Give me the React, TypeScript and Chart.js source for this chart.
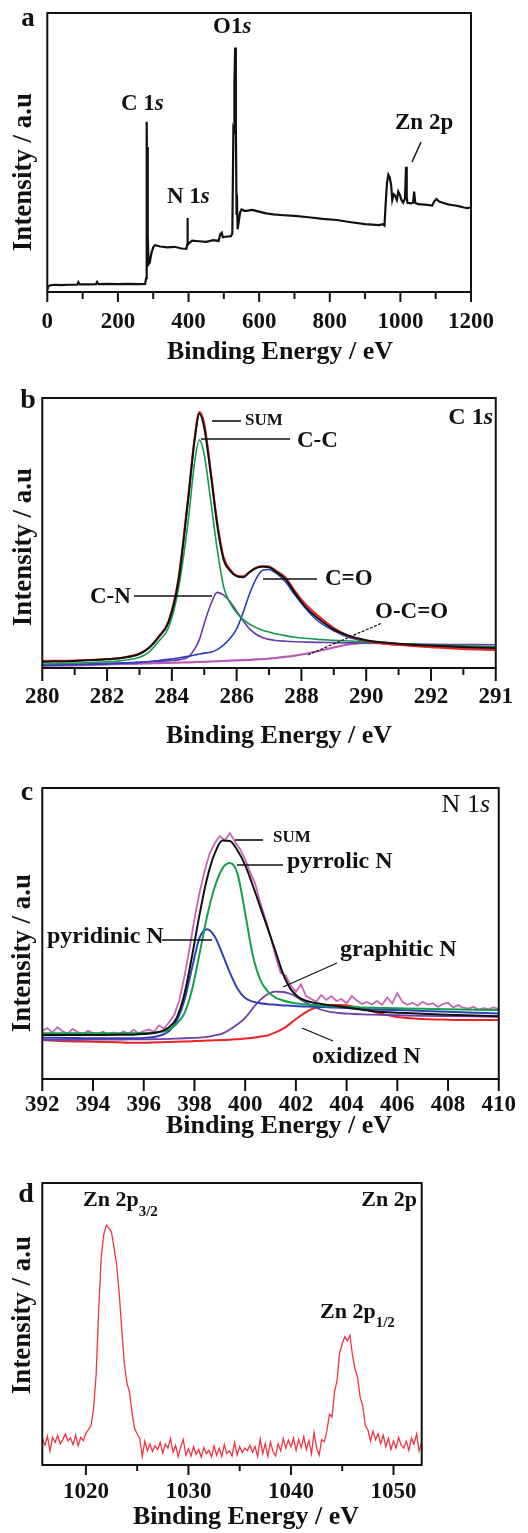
import React, { useEffect, useRef } from 'react';
import { Chart, registerables } from 'chart.js';

Chart.register(...registerables);

const FAMILY = '"Liberation Serif", "Times New Roman", serif';
const font = (size: number, weight = 'bold', style = 'normal') => `${style} ${weight} ${size}px ${FAMILY}`;

// ---------------- Panel a: survey spectrum ----------------
const aEnergy = [0, 3, 8, 20, 40, 60, 85, 88, 92, 120, 138, 141, 145, 170, 200, 230, 260, 277, 280, 281, 282, 283, 284, 285, 287, 290, 295, 300, 305, 320, 340, 360, 380, 394, 396, 397, 398, 400, 410, 430, 450, 470, 485, 490, 494, 497, 505, 520, 524, 527, 529, 530, 532, 534, 536, 537, 539, 542, 546, 550, 560, 580, 600, 620, 640, 660, 700, 740, 780, 820, 860, 900, 940, 950, 955, 958, 962, 966, 970, 974, 977, 981, 985, 990, 994, 998, 1003, 1008, 1013, 1016, 1018, 1020, 1030, 1036, 1039, 1042, 1050, 1070, 1090, 1096, 1102, 1110, 1120, 1135, 1150, 1165, 1180, 1190, 1200];
const aIntensity = [0.8, 2.0, 2.4, 2.6, 2.5, 2.6, 2.6, 3.5, 2.7, 2.7, 2.8, 3.6, 2.8, 2.9, 2.8, 2.9, 2.8, 2.9, 5, 20, 61, 35, 52, 20, 10, 10.5, 14, 16, 16.8, 16.3, 16.0, 16.2, 15.6, 15.5, 17, 26.5, 18, 17.3, 18.4, 18.2, 18.0, 18.6, 18.3, 20.8, 21.3, 19.6, 19.8, 20, 21, 58, 57, 75, 87.6, 60, 28, 35, 22.5, 25, 28.5, 29.6, 29.0, 29.4, 28.8, 28.2, 27.8, 27.6, 27.3, 26.8, 26.2, 25.8, 25.0, 24.3, 24.0, 24.3, 23.8, 31, 39, 42, 41, 38, 33, 35, 34.5, 33, 36, 35, 33, 32, 33.5, 44.9, 34, 32, 31.8, 32, 36, 32, 31.5, 31.3, 31, 32.5, 33.3, 32.4, 32, 31.4, 31.1, 30.8, 30.3, 30.1, 30.3];
const aTicks = [0, 200, 400, 600, 800, 1000, 1200];
const aTickLabels = ['0', '200', '400', '600', '800', '1000', '1200'];
const aMinor = [100, 300, 500, 700, 900, 1100];

// ---------------- Panel b: C 1s ----------------
const bEnergy = [280, 281, 282, 282.5, 283, 283.3, 283.6, 283.9, 284.2, 284.5, 284.7, 284.85, 285, 285.2, 285.4, 285.6, 285.8, 286, 286.2, 286.4, 286.6, 286.8, 287, 287.2, 287.5, 287.8, 288.1, 288.5, 289, 289.5, 290, 290.5, 291, 292, 293, 294];
const bSum = [2.3, 2.6, 3.2, 3.8, 5.2, 7.5, 11.5, 17, 32, 62, 84, 94.2, 89, 72, 53, 40, 36, 34, 33.6, 35.5, 37, 37.5, 37.3, 35.8, 33, 27.8, 23, 18.5, 14.3, 11.8, 10.3, 9.5, 9.0, 8.3, 7.8, 7.4];
const bRaw = [2.6, 2.8, 3.3, 3.9, 5.4, 7.6, 11.8, 17.5, 33, 63, 85, 94.8, 90.5, 73, 54, 41, 36.5, 34.2, 34, 35.6, 37.2, 37.8, 37.6, 36.2, 33.6, 28.5, 24, 19.5, 14.8, 11.7, 10.1, 9.1, 8.5, 7.7, 7.0, 6.6];
const bCC = [1.5, 1.8, 2.3, 2.8, 4.0, 6.0, 10.0, 15.0, 29, 54, 76, 84.5, 79, 62, 44, 30, 24, 20.5, 18, 16.2, 15, 14, 13.3, 12.7, 12.0, 11.4, 11.0, 10.6, 10.3, 10.0, 9.6, 9.3, 9.0, 8.5, 8.2, 7.9];
const bCN = [1.2, 1.4, 1.7, 1.9, 2.1, 2.3, 2.5, 2.7, 3.0, 4.0, 7.0, 10.5, 16.5, 23.5, 28, 27, 24.5, 21, 17.5, 14.5, 12.5, 11.3, 10.6, 10.2, 9.9, 9.7, 9.6, 9.5, 9.4, 9.3, 9.2, 9.1, 9.0, 8.8, 8.7, 8.6];
const bCO = [1.0, 1.2, 1.5, 1.8, 2.1, 2.4, 2.8, 3.2, 3.7, 4.3, 4.8, 5.2, 5.5, 5.8, 6.8, 8.6, 11, 14.5, 20.5, 27.5, 33, 36.2, 36.5, 35.3, 32, 27, 22.5, 17.5, 13.8, 11.2, 9.9, 9.1, 8.6, 8.1, 7.8, 7.6];
const bOCO = [0.8, 1.0, 1.3, 1.5, 1.6, 1.7, 1.8, 1.9, 2.0, 2.1, 2.2, 2.3, 2.3, 2.4, 2.5, 2.6, 2.7, 2.8, 2.9, 3.0, 3.2, 3.3, 3.5, 3.7, 4.1, 4.6, 5.2, 6.2, 7.6, 8.8, 9.4, 9.3, 8.9, 8.0, 7.4, 7.2];
const bTicks = [280, 282, 284, 286, 288, 290, 292, 294];
const bTickLabels = ['280', '282', '284', '286', '288', '290', '292', '291'];
const bMinor = [281, 283, 285, 287, 289, 291, 293];

// ---------------- Panel c: N 1s ----------------
const cEnergy = [392, 393, 394, 395, 395.5, 396, 396.5, 397, 397.3, 397.6, 397.9, 398.2, 398.5, 398.8, 399.1, 399.4, 399.7, 400, 400.3, 400.6, 400.9, 401.2, 401.5, 401.8, 402.1, 402.4, 402.7, 403, 403.4, 403.8, 404.2, 404.6, 405, 405.5, 406, 407, 408, 409, 410];
const cSum = [15.1, 15.1, 15.1, 15.2, 15.2, 15.5, 16.0, 17.8, 21, 29, 42, 56.5, 69, 77.5, 82, 81.8, 78.5, 73.5, 66.5, 59, 51.5, 43.8, 36, 30.8, 28.2, 26.9, 26.2, 25.8, 25.3, 24.8, 24.3, 23.8, 23.4, 23.0, 22.8, 22.4, 22.1, 21.8, 21.6];
const cPyrrolic = [15.7, 15.7, 15.7, 15.7, 15.7, 15.8, 16.0, 17.0, 19, 22.5, 30.5, 43, 56, 66, 72.3, 74.2, 70.5, 57, 42.5, 34, 30, 28.0, 27.0, 26.3, 25.9, 25.6, 25.4, 25.2, 25.0, 24.9, 24.7, 24.6, 24.5, 24.4, 24.3, 24.1, 24.0, 23.8, 23.7];
const cPyridinic = [14.2, 14.1, 14.0, 14.0, 14.0, 14.1, 14.6, 16.5, 20, 27, 38, 48.5, 51.5, 49, 43, 36.5, 31, 27.8, 26.6, 26.0, 25.7, 25.5, 25.3, 25.2, 25.0, 24.9, 24.8, 24.7, 24.6, 24.5, 24.3, 24.2, 24.0, 23.8, 23.7, 23.4, 23.1, 22.8, 22.5];
const cGraphitic = [13.4, 13.4, 13.5, 13.5, 13.6, 13.6, 13.7, 13.8, 13.9, 14.0, 14.1, 14.2, 14.5, 15.0, 15.6, 17, 18.8, 21, 24.3, 27.2, 29.2, 30, 29.9, 29.2, 27.8, 26.2, 24.9, 23.8, 23.0, 22.6, 22.4, 22.2, 22.1, 22.0, 21.9, 21.7, 21.6, 21.5, 21.4];
const cOxidized = [13.4, 13.0, 12.8, 12.6, 12.5, 12.5, 12.6, 12.7, 12.8, 12.9, 13.0, 13.1, 13.2, 13.3, 13.4, 13.5, 13.7, 13.9, 14.2, 14.6, 15.0, 16.0, 17.3, 19.2, 21.2, 23.0, 24.3, 25.0, 25.4, 25.4, 25.0, 24.3, 23.3, 22.2, 21.3, 20.6, 20.4, 20.3, 20.3];
const cRawEnergy = [
  392, 392.2, 392.4, 392.6, 392.8, 393, 393.2, 393.4, 393.6, 393.8,
  394, 394.2, 394.4, 394.6, 394.8, 395, 395.2, 395.4, 395.6, 395.8,
  396, 396.2, 396.4, 396.6, 396.8, 397, 397.2, 397.4, 397.6, 397.8,
  398, 398.2, 398.4, 398.6, 398.8, 399, 399.2, 399.4, 399.6, 399.8,
  400, 400.2, 400.4, 400.6, 400.8, 401, 401.2, 401.4, 401.6, 401.8,
  402, 402.2, 402.4, 402.6, 402.8, 403, 403.2, 403.4, 403.6, 403.8,
  404, 404.2, 404.4, 404.6, 404.8, 405, 405.2, 405.4, 405.6, 405.8,
  406, 406.2, 406.4, 406.6, 406.8, 407, 407.2, 407.4, 407.6, 407.8,
  408, 408.2, 408.4, 408.6, 408.8, 409, 409.2, 409.4, 409.6, 409.8,
  410];
const cRaw = [
  16.5, 17.5, 16.0, 17.8, 16.4, 15.6, 17.2, 16.1, 15.4, 16.6,
  15.8, 15.5, 16.2, 15.3, 16.0, 15.4, 16.3, 15.6, 16.9, 15.7,
  16.5, 17.0, 16.2, 18.4, 17.3, 19.5, 22.0, 27.0, 35.0, 44.5,
  55.0, 64.0, 71.5, 77.5, 81.0, 83.5, 82.0, 84.5, 81.5, 79.0,
  75.5, 71.0, 67.0, 60.5, 55.0, 49.0, 42.0, 36.5, 35.5, 32.0,
  30.0, 32.5, 28.5, 27.5, 26.6, 28.8, 27.2, 28.5, 26.8, 27.5,
  26.0, 28.5, 27.0, 25.8, 26.5, 25.6, 26.8, 25.5, 28.0, 26.0,
  29.5, 26.5, 25.5, 26.2, 25.2, 26.5, 25.6, 26.0, 24.8, 25.8,
  26.2, 24.6, 25.4, 24.5, 24.2, 24.8, 23.9, 24.3, 24.0, 24.6,
  24.0];
const cTicks = [392, 394, 396, 398, 400, 402, 404, 406, 408, 410];
const cTickLabels = ['392', '394', '396', '398', '400', '402', '404', '406', '408', '410'];
const cMinor: number[] = [];

// ---------------- Panel d: Zn 2p ----------------
const dEnergy = [
  1015.75, 1016, 1016.25, 1016.5, 1016.75, 1017, 1017.25, 1017.5,
  1017.75, 1018, 1018.25, 1018.5, 1018.75, 1019, 1019.25, 1019.5,
  1019.75, 1020, 1020.25, 1020.5, 1020.75, 1021, 1021.25, 1021.5,
  1021.75, 1022, 1022.25, 1022.5, 1022.75, 1023, 1023.25, 1023.5,
  1023.75, 1024, 1024.25, 1024.5, 1024.75, 1025, 1025.25, 1025.5,
  1025.75, 1026, 1026.25, 1026.5, 1026.75, 1027, 1027.25, 1027.5,
  1027.75, 1028, 1028.25, 1028.5, 1028.75, 1029, 1029.25, 1029.5,
  1029.75, 1030, 1030.25, 1030.5, 1030.75, 1031, 1031.25, 1031.5,
  1031.75, 1032, 1032.25, 1032.5, 1032.75, 1033, 1033.25, 1033.5,
  1033.75, 1034, 1034.25, 1034.5, 1034.75, 1035, 1035.25, 1035.5,
  1035.75, 1036, 1036.25, 1036.5, 1036.75, 1037, 1037.25, 1037.5,
  1037.75, 1038, 1038.25, 1038.5, 1038.75, 1039, 1039.25, 1039.5,
  1039.75, 1040, 1040.25, 1040.5, 1040.75, 1041, 1041.25, 1041.5,
  1041.75, 1042, 1042.25, 1042.5, 1042.75, 1043, 1043.25, 1043.5,
  1043.75, 1044, 1044.25, 1044.5, 1044.75, 1045, 1045.25, 1045.5,
  1045.75, 1046, 1046.25, 1046.5, 1046.75, 1047, 1047.25, 1047.5,
  1047.75, 1048, 1048.25, 1048.5, 1048.75, 1049, 1049.25, 1049.5,
  1049.75, 1050, 1050.25, 1050.5, 1050.75, 1051, 1051.25, 1051.5,
  1051.75, 1052, 1052.25, 1052.5, 1052.75];
const dIntensity = [
  9.5, 7.0, 10.2, 5.0, 9.8, 8.0, 10.5, 7.5,
  9.0, 11.0, 8.5, 9.6, 7.2, 10.6, 6.8, 9.8,
  8.6, 11.2, 12.5, 14.0, 20.0, 32.0, 55.0, 74.0,
  82.0, 85.0, 84.0, 82.5, 77.0, 71.0, 61.0, 48.0,
  36.0, 29.0, 26.0, 18.5, 13.0, 11.0, 9.5, 3.0,
  8.5, 5.0, 7.5, 4.8, 6.9, 5.5, 8.0, 4.2,
  7.4, 6.0, 9.5, 4.5, 7.0, 3.0, 6.4, 9.0,
  3.5, 5.8, 3.2, 6.5, 3.8, 5.5, 2.8, 6.2,
  4.0, 5.2, 2.9, 6.8, 3.4, 5.9, 3.0, 7.2,
  4.1, 5.0, 3.2, 8.0, 3.6, 6.5, 4.4, 6.0,
  5.1, 7.0, 4.5, 6.6, 3.0, 9.2, 4.0, 7.6,
  3.1, 8.2, 4.8, 3.2, 7.5, 5.0, 9.4, 6.0,
  8.8, 6.5, 9.5, 5.2, 9.0, 6.2, 10.0, 5.5,
  8.7, 4.0, 11.5, 6.0, 3.5, 9.0, 8.2, 12.0,
  18.0, 17.0, 26.0, 30.0, 40.0, 43.0, 45.5, 44.0,
  46.0, 39.0, 34.0, 31.0, 24.0, 21.0, 14.0, 12.5,
  8.5, 12.0, 9.0, 11.0, 7.5, 10.5, 6.5, 9.5,
  5.5, 8.5, 6.0, 9.8, 7.0, 6.0, 8.5, 5.2,
  9.5, 7.4, 11.0, 5.0, 8.0];
const dTicks = [1020, 1030, 1040, 1050];
const dTickLabels = ['1020', '1030', '1040', '1050'];
const dMinor = [1025, 1035, 1045];

// ---------------- helpers ----------------
const W = 528;
const LABEL_BAND = 50;
const pts = (xs: number[], ys: number[]) => xs.map((x, i) => ({ x, y: ys[i] }));

type Seg = { t: string; f: string; dy?: number };
type Note = { segs: Seg[]; x: number; y: number; align?: 'left' | 'right' | 'center' };
type Leader = { x1: number; y1: number; x2: number; y2: number; w?: number; dash?: number[] };

interface Spec {
  top: number;
  height: number;
  area: { l: number; r: number; t: number; b: number };
  xMin: number;
  xMax: number;
  ticks: number[];
  tickLabels: string[];
  minor: number[];
  majorLen: number;
  minorLen: number;
  tickPad: number;
  datasets: any[];
  notes: Note[];
  leaders: Leader[];
  xTitle: { x: number; y: number };
  yTitle: { x: number; y: number };
}

const line = (data: any[], color: string, width: number, smooth: boolean) => ({
  data,
  borderColor: color,
  borderWidth: width,
  pointRadius: 0,
  fill: false,
  tension: 0,
  cubicInterpolationMode: smooth ? 'monotone' : 'default',
});

const plain = (t: string, size = 23): Seg => ({ t, f: font(size) });
const ital = (t: string, size = 23): Seg => ({ t, f: font(size, 'bold', 'italic') });

function Panel({ spec }: { spec: Spec }) {
  const ref = useRef<HTMLCanvasElement>(null);
  useEffect(() => {
    const s = spec;
    const off = s.top;
    const decor = {
      id: 'decor',
      afterDraw(chart: any) {
        const ctx = chart.ctx as CanvasRenderingContext2D;
        const xs = chart.scales.x;
        const a = chart.chartArea;
        ctx.save();
        ctx.strokeStyle = '#111';
        ctx.fillStyle = '#111';
        ctx.lineWidth = 2;
        ctx.strokeRect(a.left, a.top, a.right - a.left, a.bottom - a.top);
        const tick = (v: number, len: number) => {
          const px = xs.getPixelForValue(v);
          ctx.beginPath();
          ctx.moveTo(px, a.bottom);
          ctx.lineTo(px, a.bottom + len);
          ctx.stroke();
        };
        s.ticks.forEach((v) => tick(v, s.majorLen));
        s.minor.forEach((v) => tick(v, s.minorLen));
        s.leaders.forEach((l) => {
          ctx.save();
          ctx.lineWidth = l.w ?? 1.6;
          ctx.setLineDash(l.dash ?? []);
          ctx.beginPath();
          ctx.moveTo(l.x1, l.y1 - off);
          ctx.lineTo(l.x2, l.y2 - off);
          ctx.stroke();
          ctx.restore();
        });
        ctx.textBaseline = 'middle';
        ctx.textAlign = 'left';
        s.notes.forEach((n) => {
          let total = 0;
          n.segs.forEach((sg) => {
            ctx.font = sg.f;
            total += ctx.measureText(sg.t).width;
          });
          let x = n.align === 'right' ? n.x - total : n.align === 'center' ? n.x - total / 2 : n.x;
          n.segs.forEach((sg) => {
            ctx.font = sg.f;
            ctx.fillText(sg.t, x, n.y - off + (sg.dy ?? 0));
            x += ctx.measureText(sg.t).width;
          });
        });
        ctx.textAlign = 'center';
        ctx.font = font(26);
        ctx.fillText('Binding Energy / eV', s.xTitle.x, s.xTitle.y - off);
        ctx.save();
        ctx.translate(s.yTitle.x, s.yTitle.y - off);
        ctx.rotate(-Math.PI / 2);
        ctx.font = font(27);
        ctx.fillText('Intensity / a.u', 0, 0);
        ctx.restore();
        ctx.restore();
      },
    };
    const chart = new Chart(ref.current as HTMLCanvasElement, {
      type: 'line',
      data: { datasets: s.datasets },
      options: {
        animation: false,
        responsive: false,
        maintainAspectRatio: false,
        events: [],
        layout: {
          padding: {
            left: s.area.l,
            right: W - s.area.r,
            top: s.area.t - s.top,
            bottom: s.top + s.height - s.area.b - LABEL_BAND,
          },
        },
        plugins: { legend: { display: false }, tooltip: { enabled: false } },
        elements: { point: { radius: 0 } },
        scales: {
          x: {
            type: 'linear',
            min: s.xMin,
            max: s.xMax,
            grid: { display: false, drawTicks: false, tickLength: 0 },
            border: { display: false },
            afterFit: (sc: any) => {
              sc.height = LABEL_BAND;
            },
            afterBuildTicks: (sc: any) => {
              sc.ticks = s.ticks.map((v) => ({ value: v }));
            },
            ticks: {
              autoSkip: false,
              maxRotation: 0,
              minRotation: 0,
              padding: s.tickPad,
              color: '#111',
              font: { family: FAMILY, size: 23, weight: 'bold' },
              callback: (v: any) => {
                const i = s.ticks.indexOf(Number(v));
                return i >= 0 ? s.tickLabels[i] : '';
              },
            },
          },
          y: { type: 'linear', min: 0, max: 100, display: false },
        },
      } as any,
      plugins: [decor],
    });
    return () => chart.destroy();
  }, [spec]);
  return (
    <canvas
      ref={ref}
      width={W}
      height={spec.height}
      style={{ position: 'absolute', left: 0, top: spec.top, width: W, height: spec.height }}
    />
  );
}

const specA: Spec = {
  top: 0,
  height: 370,
  area: { l: 47.3, r: 471, t: 13, b: 292 },
  xMin: 0,
  xMax: 1200,
  ticks: aTicks,
  tickLabels: aTickLabels,
  minor: aMinor,
  majorLen: 10,
  minorLen: 7,
  tickPad: 16,
  datasets: [line(pts(aEnergy, aIntensity), '#111', 2.2, false)],
  notes: [
    { segs: [plain('a', 27)], x: 28, y: 19, align: 'center' },
    { segs: [plain('O1'), ital('s')], x: 213, y: 27 },
    { segs: [plain('C 1'), ital('s')], x: 121, y: 104 },
    { segs: [plain('N 1'), ital('s')], x: 167, y: 197 },
    { segs: [plain('Zn 2p')], x: 395, y: 123 },
  ],
  leaders: [{ x1: 421, y1: 142, x2: 412, y2: 162, w: 1.5 }],
  xTitle: { x: 280, y: 352 },
  yTitle: { x: 24, y: 172 },
};

const specB: Spec = {
  top: 370,
  height: 390,
  area: { l: 42.3, r: 508, t: 398, b: 668 },
  xMin: 280,
  xMax: 294,
  ticks: bTicks,
  tickLabels: bTickLabels,
  minor: bMinor,
  majorLen: 13,
  minorLen: 7,
  tickPad: 15,
  datasets: [
    line(pts(bEnergy, bSum), '#111', 2, true),
    line(pts(bEnergy, bRaw), '#ee2020', 2, true),
    line(pts(bEnergy, bCC), '#149a4a', 1.6, true),
    line(pts(bEnergy, bCO), '#2a3cbf', 1.6, true),
    line(pts(bEnergy, bCN), '#6a3aa8', 1.6, true),
    line(pts(bEnergy, bOCO), '#b85ab8', 2.2, true),
  ],
  notes: [
    { segs: [plain('b', 28)], x: 28, y: 401, align: 'center' },
    { segs: [plain('SUM', 17)], x: 245, y: 421 },
    { segs: [plain('C-C')], x: 297, y: 441 },
    { segs: [plain('C=O')], x: 325, y: 579 },
    { segs: [plain('C-N')], x: 90, y: 597 },
    { segs: [plain('O-C=O')], x: 375, y: 612 },
    { segs: [plain('C 1', 24), ital('s', 24)], x: 493, y: 418, align: 'right' },
  ],
  leaders: [
    { x1: 212, y1: 421, x2: 241, y2: 421 },
    { x1: 201, y1: 439, x2: 290, y2: 439 },
    { x1: 263, y1: 579, x2: 317, y2: 579 },
    { x1: 134, y1: 596, x2: 212, y2: 596 },
    { x1: 308, y1: 655, x2: 382, y2: 623, w: 1.2, dash: [3, 1.5] },
  ],
  xTitle: { x: 279, y: 736 },
  yTitle: { x: 24, y: 547 },
};

const specC: Spec = {
  top: 760,
  height: 388,
  area: { l: 42.3, r: 504, t: 788, b: 1079 },
  xMin: 392,
  xMax: 410,
  ticks: cTicks,
  tickLabels: cTickLabels,
  minor: cMinor,
  majorLen: 12,
  minorLen: 12,
  tickPad: 12,
  datasets: [
    line(pts(cEnergy, cSum), '#111', 2, true),
    line(pts(cEnergy, cPyrrolic), '#12a04c', 2, true),
    line(pts(cEnergy, cPyridinic), '#3040b8', 2, true),
    line(pts(cEnergy, cGraphitic), '#7040a8', 1.8, true),
    line(pts(cEnergy, cOxidized), '#ee2222', 2, true),
    line(pts(cRawEnergy, cRaw), '#c865b8', 1.8, false),
  ],
  notes: [
    { segs: [plain('c', 28)], x: 27, y: 793, align: 'center' },
    { segs: [{ t: 'N 1', f: font(26, 'normal') }, { t: 's', f: font(26, 'normal', 'italic') }], x: 490, y: 805, align: 'right' },
    { segs: [plain('SUM', 17)], x: 273, y: 838 },
    { segs: [plain('pyrrolic N', 24)], x: 287, y: 862 },
    { segs: [plain('pyridinic N', 24)], x: 47, y: 937 },
    { segs: [plain('graphitic N', 24)], x: 340, y: 950 },
    { segs: [plain('oxidized N', 24)], x: 312, y: 1057 },
  ],
  leaders: [
    { x1: 235, y1: 840, x2: 263, y2: 840 },
    { x1: 237, y1: 865, x2: 283, y2: 865 },
    { x1: 162, y1: 940, x2: 212, y2: 940 },
    { x1: 283, y1: 987, x2: 337, y2: 963, w: 1.3 },
    { x1: 302, y1: 1028, x2: 333, y2: 1041, w: 1.3 },
  ],
  xTitle: { x: 279, y: 1126 },
  yTitle: { x: 23, y: 953 },
};

const specD: Spec = {
  top: 1148,
  height: 385,
  area: { l: 42.3, r: 421.7, t: 1183, b: 1465 },
  xMin: 1015.75,
  xMax: 1052.75,
  ticks: dTicks,
  tickLabels: dTickLabels,
  minor: dMinor,
  majorLen: 10,
  minorLen: 6,
  tickPad: 13.5,
  datasets: [line(pts(dEnergy, dIntensity), '#ee3344', 1.3, false)],
  notes: [
    { segs: [plain('d', 28)], x: 26, y: 1195, align: 'center' },
    { segs: [plain('Zn 2p', 22), { t: '3/2', f: font(15), dy: 12 }], x: 83, y: 1200 },
    { segs: [plain('Zn 2p', 22)], x: 417, y: 1200, align: 'right' },
    { segs: [plain('Zn 2p', 22), { t: '1/2', f: font(15), dy: 11 }], x: 320, y: 1312 },
  ],
  leaders: [],
  xTitle: { x: 246, y: 1517 },
  yTitle: { x: 23, y: 1315 },
};

export default function App() {
  return (
    <div style={{ position: 'absolute', left: 0, top: 0, width: W, height: 1533, background: '#fff' }}>
      <Panel spec={specA} />
      <Panel spec={specB} />
      <Panel spec={specC} />
      <Panel spec={specD} />
    </div>
  );
}
